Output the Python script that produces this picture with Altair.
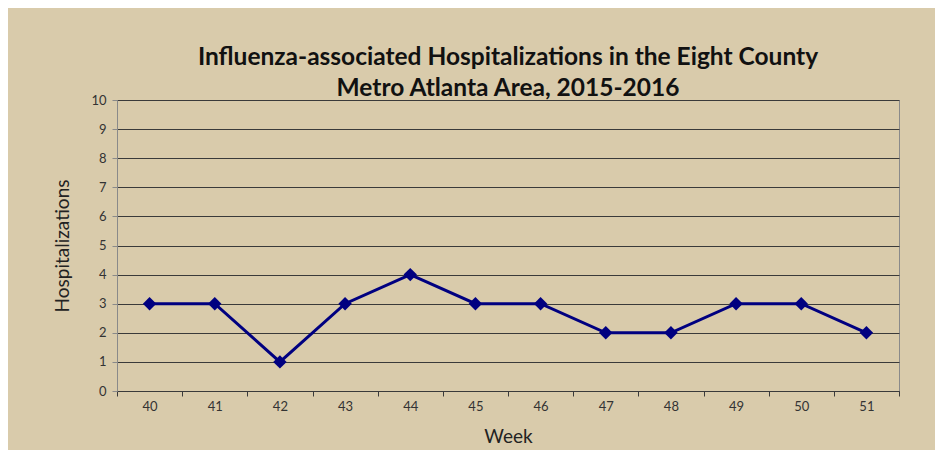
import altair as alt
import pandas as pd

weeks = [40, 41, 42, 43, 44, 45, 46, 47, 48, 49, 50, 51]
hospitalizations = [3, 3, 1, 3, 4, 3, 3, 2, 2, 3, 3, 2]
y_ticks = list(range(0, 11))
band_edges = [w - 0.5 for w in weeks] + [weeks[-1] + 0.5]

df = pd.DataFrame({"Week": weeks, "Hospitalizations": hospitalizations})
edges = pd.DataFrame({"edge": band_edges})

FONT = "Lato"
xscale = alt.Scale(domain=[39.5, 51.5], nice=False, zero=False)
yscale = alt.Scale(domain=[0, 10], nice=False)

yaxis = alt.Axis(values=y_ticks, grid=True, gridColor="#3a3a3a",
                 gridWidth=1, domainColor="#8a8a8a", tickColor="#8a8a8a",
                 tickSize=5, labelFontSize=13, labelColor="#333333",
                 labelFont=FONT, labelPadding=6,
                 title="Hospitalizations", titleFont=FONT,
                 titleFontSize=19, titleFontWeight="normal",
                 titleColor="#222222", titlePadding=18)

base = alt.Chart(df)

line = base.mark_line(color="#000080", strokeWidth=3).encode(
    x=alt.X("Week:Q", scale=xscale,
            axis=alt.Axis(orient="bottom", values=weeks, format="d", ticks=False,
                          grid=False, domain=True, domainColor="#3a3a3a",
                          labelFontSize=13, labelColor="#333333", labelFont=FONT,
                          labelPadding=9, title="Week", titleFont=FONT,
                          titleFontSize=19, titleFontWeight="normal",
                          titleColor="#222222", titlePadding=14)),
    y=alt.Y("Hospitalizations:Q", scale=yscale, axis=yaxis),
)

points = base.mark_point(shape="diamond", filled=True, color="#000080",
                         size=180, opacity=1).encode(
    x=alt.X("Week:Q", scale=xscale, axis=None),
    y=alt.Y("Hospitalizations:Q", scale=yscale, axis=yaxis),
)

ticks_layer = alt.Chart(edges).mark_tick(opacity=0).encode(
    x=alt.X("edge:Q", scale=xscale,
            axis=alt.Axis(orient="bottom", values=band_edges, labels=False,
                          ticks=True, tickSize=5, tickColor="#3a3a3a",
                          domain=False, grid=False, title=None)),
)

chart = (
    alt.layer(line, points, ticks_layer)
    .resolve_axis(x="independent")
    .properties(
        width=782,
        height=291,
        background="#D9CBAB",
        padding={"left": 45, "top": 36, "right": 35, "bottom": 4},
        title=alt.TitleParams(
            ["Influenza-associated Hospitalizations in the  Eight County",
             "Metro Atlanta Area, 2015-2016"],
            font=FONT, fontSize=24.5, fontWeight="bold", color="#111111",
            anchor="middle", offset=-7, lineHeight=31,
        ),
    )
    .configure_view(stroke="#8a8a8a", strokeWidth=1)
)

chart.save("out.html", embed_options={"renderer": "svg", "actions": False})
